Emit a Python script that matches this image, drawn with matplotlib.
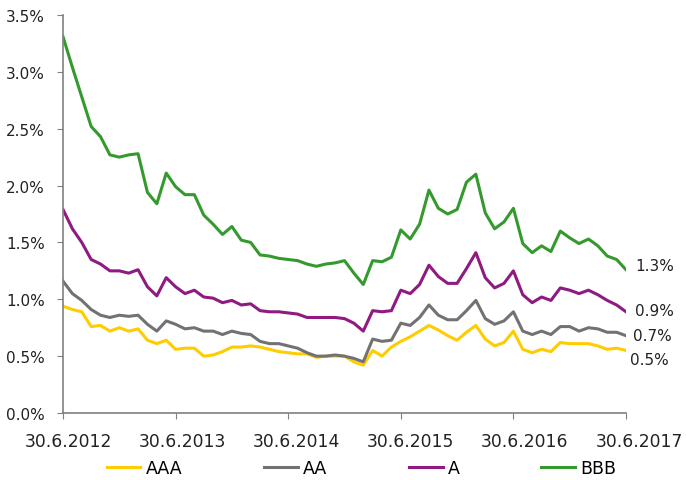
import matplotlib.pyplot as plt
import matplotlib.transforms as mtransforms
import numpy as np

# monthly observations, 30.6.2012 .. 30.6.2017
aaa = [0.94, 0.91, 0.89, 0.76, 0.77, 0.72, 0.75, 0.72, 0.74, 0.64,
       0.61, 0.64, 0.56, 0.57, 0.57, 0.50, 0.51, 0.54, 0.58, 0.58,
       0.59, 0.58, 0.56, 0.54, 0.53, 0.52, 0.52, 0.49, 0.50, 0.50,
       0.50, 0.45, 0.42, 0.55, 0.50, 0.58, 0.63, 0.67, 0.72, 0.77,
       0.73, 0.68, 0.64, 0.71, 0.77, 0.65, 0.59, 0.62, 0.72, 0.56,
       0.53, 0.56, 0.54, 0.62, 0.61, 0.61, 0.61, 0.59, 0.56, 0.57, 0.55]
aa = [1.16, 1.05, 0.99, 0.91, 0.86, 0.84, 0.86, 0.85, 0.86, 0.78,
      0.72, 0.81, 0.78, 0.74, 0.75, 0.72, 0.72, 0.69, 0.72, 0.70,
      0.69, 0.63, 0.61, 0.61, 0.59, 0.57, 0.53, 0.50, 0.50, 0.51,
      0.50, 0.48, 0.45, 0.65, 0.63, 0.64, 0.79, 0.77, 0.84, 0.95,
      0.86, 0.82, 0.82, 0.90, 0.99, 0.83, 0.78, 0.81, 0.89, 0.72,
      0.69, 0.72, 0.69, 0.76, 0.76, 0.72, 0.75, 0.74, 0.71, 0.71, 0.68]
a = [1.79, 1.62, 1.50, 1.35, 1.31, 1.25, 1.25, 1.23, 1.26, 1.11,
     1.03, 1.19, 1.11, 1.05, 1.08, 1.02, 1.01, 0.97, 0.99, 0.95,
     0.96, 0.90, 0.89, 0.89, 0.88, 0.87, 0.84, 0.84, 0.84, 0.84,
     0.83, 0.79, 0.72, 0.90, 0.89, 0.90, 1.08, 1.05, 1.13, 1.30,
     1.20, 1.14, 1.14, 1.27, 1.41, 1.19, 1.10, 1.14, 1.25, 1.04,
     0.97, 1.02, 0.99, 1.10, 1.08, 1.05, 1.08, 1.04, 0.99, 0.95, 0.89]
bbb = [3.31, 3.04, 2.78, 2.52, 2.43, 2.27, 2.25, 2.27, 2.28, 1.94,
       1.84, 2.11, 1.99, 1.92, 1.92, 1.74, 1.66, 1.57, 1.64, 1.52,
       1.50, 1.39, 1.38, 1.36, 1.35, 1.34, 1.31, 1.29, 1.31, 1.32,
       1.34, 1.23, 1.13, 1.34, 1.33, 1.37, 1.61, 1.53, 1.66, 1.96,
       1.80, 1.75, 1.79, 2.03, 2.10, 1.76, 1.62, 1.68, 1.80, 1.49,
       1.41, 1.47, 1.42, 1.60, 1.54, 1.49, 1.53, 1.47, 1.38, 1.35, 1.26]

series_names = ['AAA', 'AA', 'A', 'BBB']
colors = ['#FFCC00', '#727272', '#8E1A82', '#359A2E']
end_labels = ['0.5%', '0.7%', '0.9%', '1.3%']
label_offsets = [(4, -9), (7, 0), (9, 1), (9, 4)]
year_labels = ['30.6.2012', '30.6.2013', '30.6.2014', '30.6.2015', '30.6.2016', '30.6.2017']

x = np.arange(len(aaa))

fig = plt.figure(figsize=(6.86, 4.81), dpi=100)
ax = fig.add_axes([63 / 686, 67 / 481, 563 / 686, 398 / 481])

for vals, name, col, lab, off in zip([aaa, aa, a, bbb], series_names, colors,
                                     end_labels, label_offsets):
    ax.plot(x, vals, color=col, lw=2.2, label=name)
    ax.annotate(lab, (x[-1], vals[-1]), xytext=off, textcoords='offset pixels',
                va='center', ha='left', fontsize=11, color='#222222',
                annotation_clip=False)

ax.set_xlim(0, 60)
ax.set_ylim(0, 3.5)
ax.set_xticks(np.arange(0, 61, 12))
ax.set_xticklabels(year_labels)
ax.set_yticks(np.arange(0, 3.51, 0.5))
ax.set_yticklabels([f'{v:.1f}%' for v in np.arange(0, 3.51, 0.5)])

for side in ['top', 'right']:
    ax.spines[side].set_visible(False)
for side in ['left', 'bottom']:
    ax.spines[side].set_color('#808080')
    ax.spines[side].set_linewidth(1.2)
ax.tick_params(direction='out', length=4, color='#808080', labelcolor='#222222')
ax.tick_params(axis='y', labelsize=11, pad=9)
ax.tick_params(axis='x', labelsize=12.3, pad=10)

# the year labels sit slightly right of their ticks in the original
for k, lbl in enumerate(ax.get_xticklabels()):
    dx = (5 + 1.6 * k) / 100
    lbl.set_transform(lbl.get_transform() +
                      mtransforms.ScaledTranslation(dx, 0, fig.dpi_scale_trans))

handles, labels = ax.get_legend_handles_labels()
fig.legend(handles, labels, loc='center', bbox_to_anchor=(0.527, 0.024), ncol=4,
           frameon=False, fontsize=12.5, handlelength=1.95, columnspacing=4.7,
           handletextpad=0.3, borderaxespad=0, borderpad=0)

fig.savefig('out.png', dpi=100)
